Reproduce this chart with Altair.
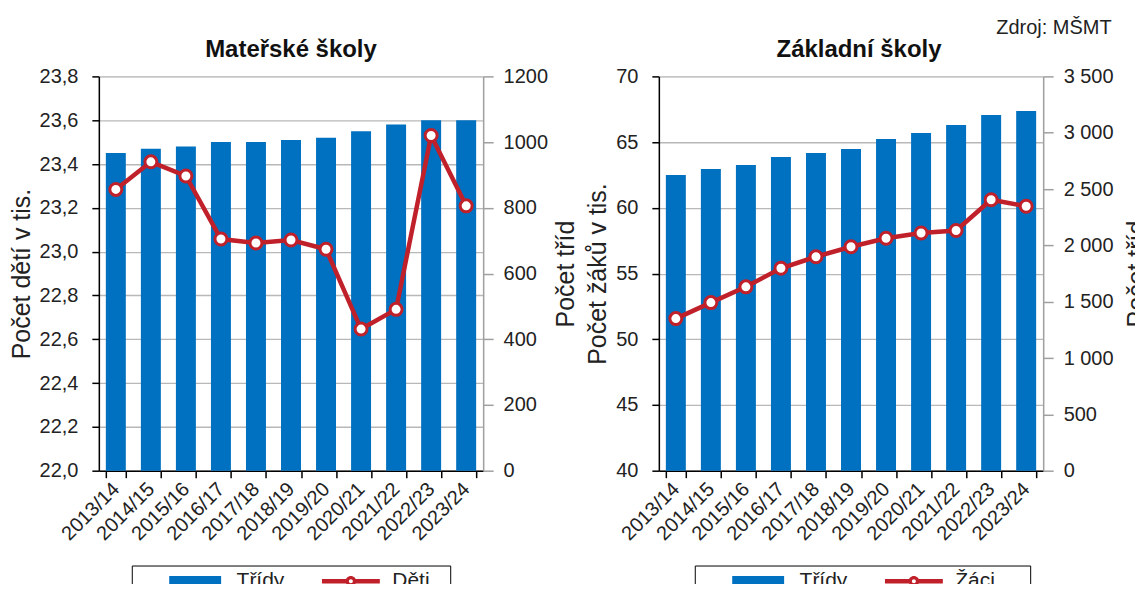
import altair as alt
import pandas as pd

# ---------------- data ----------------
years = ["2013/14", "2014/15", "2015/16", "2016/17", "2017/18", "2018/19",
         "2019/20", "2020/21", "2021/22", "2022/23", "2023/24"]

ms_tridy = [23.45, 23.47, 23.48, 23.50, 23.50, 23.51, 23.52, 23.55, 23.58, 23.60, 23.60]
ms_deti = [856, 940, 897, 705, 693, 702, 674, 431, 491, 1020, 806]

zs_tridy = [62.49, 62.95, 63.25, 63.86, 64.17, 64.47, 65.24, 65.69, 66.30, 67.06, 67.37]
zs_zaci = [1350, 1492, 1632, 1797, 1899, 1988, 2063, 2110, 2132, 2405, 2347]

ms_left_ticks = [22.0, 22.2, 22.4, 22.6, 22.8, 23.0, 23.2, 23.4, 23.6, 23.8]
ms_right_ticks = [0, 200, 400, 600, 800, 1000, 1200]
zs_left_ticks = [40, 45, 50, 55, 60, 65, 70]
zs_right_ticks = [0, 500, 1000, 1500, 2000, 2500, 3000, 3500]

ms_names = ["Třídy", "Děti"]
zs_names = ["Třídy", "Žáci"]

# ---------------- style ----------------
BLUE = "#0070c0"
RED = "#c0202a"
FONT = "Liberation Sans"
TXT = "#222222"
GRID = "#b8b8b8"
GRAY_AX = "#a0a0a0"
BLANK = "\u2800"  # blank glyph (not trimmed) used to widen the legend box

BAR_PATH = "M-2.6,-0.53H2.6V0.53H-2.6Z"
LINE_PATH = ("M-2.9,-0.22H-0.45V0.22H-2.9Z"
             "M0.45,-0.22H2.9V0.22H0.45Z"
             "M0.53,0A0.53,0.53 0 1,1 -0.53,0A0.53,0.53 0 1,1 0.53,0Z"
             "M0.2,0A0.2,0.2 0 1,0 -0.2,0A0.2,0.2 0 1,0 0.2,0Z")

W, H = 385, 395


def panel(title, left_vals, right_vals, names, left_dom, left_ticks, right_dom, right_ticks,
          left_title, right_title, left_expr, right_expr, leg_x, title_dx, r_title_pad,
          trail):
    df = pd.DataFrame({"rok": years, "tridy": left_vals, "pocet": right_vals})

    x_axis = alt.Axis(title=None, labelAngle=-45, labelAlign="right", labelBaseline="middle",
                      labelFontSize=20, labelColor=TXT, labelPadding=8,
                      domainColor="#000", domainWidth=1.5, tickColor="#000", tickWidth=1.5,
                      tickSize=7, tickBand="extent", grid=False)
    x = alt.X("rok:N", sort=years, axis=x_axis,
              scale=alt.Scale(paddingInner=0.43, paddingOuter=0.2))

    bars = alt.Chart(df).mark_bar(color=BLUE).encode(
        x=x,
        y=alt.Y("tridy:Q",
                scale=alt.Scale(domain=left_dom, zero=False, nice=False),
                axis=alt.Axis(orient="left", values=left_ticks, title=left_title,
                              labelExpr=left_expr, grid=True, gridColor=GRID, gridWidth=1.3,
                              domainColor="#000", domainWidth=1.5, tickColor="#000",
                              tickWidth=1.5, tickSize=7, labelPadding=14, labelFontSize=20,
                              labelColor=TXT, titleFontSize=25, titleFontWeight="normal",
                              titleColor=TXT, titlePadding=5)),
        y2=alt.datum(left_dom[0]),
    )

    y_right = alt.Y("pocet:Q",
                    scale=alt.Scale(domain=right_dom, nice=False),
                    axis=alt.Axis(orient="right", values=right_ticks, title=right_title,
                                  labelExpr=right_expr, grid=False, domainColor=GRAY_AX,
                                  domainWidth=1.5, tickColor=GRAY_AX, tickWidth=1.5,
                                  tickSize=10, labelPadding=10, labelFontSize=20,
                                  labelColor=TXT, titleFontSize=25, titleFontWeight="normal",
                                  titleColor=TXT, titleAngle=270, titleBaseline="top",
                                  titlePadding=r_title_pad))
    line = alt.Chart(df).mark_line(color=RED, strokeWidth=4.5).encode(x=x, y=y_right)
    pts = alt.Chart(df).mark_point(filled=True, fill="white", stroke=RED, strokeWidth=3,
                                   size=144, opacity=1).encode(x=x, y=y_right)

    leg = alt.Legend(title=None, orient="none", legendX=leg_x, legendY=490,
                     direction="horizontal", columns=2, strokeColor="#000",
                     padding=5, symbolSize=400, symbolOffset=48, labelOffset=31,
                     columnPadding=8, labelFontSize=21, labelFont=FONT, labelColor=TXT,
                     symbolStrokeWidth=0, symbolOpacity=1,
                     labelExpr="datum.label == 'Třídy' ? datum.label : datum.label + '"
                               + BLANK * trail + "'")
    legend_df = pd.DataFrame({"serie": names})
    legend_layer = alt.Chart(legend_df).mark_point(filled=True, size=0, opacity=1).encode(
        color=alt.Color("serie:N", scale=alt.Scale(domain=names, range=[BLUE, RED]), legend=leg),
        shape=alt.Shape("serie:N", scale=alt.Scale(domain=names, range=[BAR_PATH, LINE_PATH]),
                        legend=leg),
    )

    return alt.layer(bars, alt.layer(line, pts), legend_layer).resolve_scale(
        y="independent"
    ).properties(
        width=W, height=H,
        title=alt.TitleParams(title, fontSize=24, fontWeight="bold", font=FONT, color="#111",
                              baseline="alphabetic", frame="group", offset=-15, dx=title_dx),
    )


left = panel("Mateřské školy", ms_tridy, ms_deti, ms_names, [22.0, 23.8], ms_left_ticks,
             [0, 1200], ms_right_ticks, "Počet dětí v tis.", "Počet tříd",
             "replace(format(datum.value, '.1f'), '.', ',')",
             "format(datum.value, 'd')", 33, 0, 6, 1)

right = panel("Základní školy", zs_tridy, zs_zaci, zs_names, [40, 70], zs_left_ticks,
              [0, 3500], zs_right_ticks, "Počet žáků v tis.", "Počet tříd",
              "format(datum.value, 'd')",
              "replace(format(datum.value, ',d'), ',', ' ')", 36, 8, 11, 2)

chart = alt.hconcat(left, right, spacing=6).resolve_scale(
    color="independent", shape="independent"
).properties(
    title=alt.TitleParams("Zdroj: MŠMT", anchor="end", fontSize=20, fontWeight="normal",
                          font=FONT, color=TXT, baseline="alphabetic", offset=-16, dx=-38),
    padding={"left": 0, "top": 9, "right": -15, "bottom": -14},
).configure_view(stroke=None).configure(font=FONT).configure_axis(
    labelFont=FONT, titleFont=FONT
)

chart.save("out.html", embed_options={"renderer": "svg", "actions": False})
